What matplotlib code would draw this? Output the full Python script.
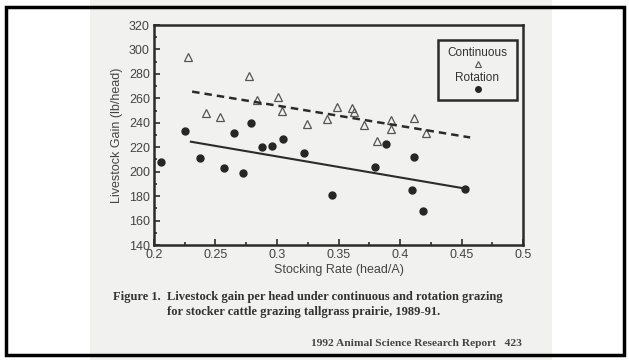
import numpy as np
import matplotlib
matplotlib.use("Agg")
import matplotlib.pyplot as plt
from matplotlib.patches import Rectangle
from matplotlib.ticker import MultipleLocator

########## Data
cont_x = [0.228, 0.242, 0.254, 0.277, 0.284, 0.301, 0.304, 0.324, 0.341, 0.349,
          0.361, 0.363, 0.371, 0.381, 0.393, 0.393, 0.411, 0.421]
cont_y = [294, 248, 245, 278, 259, 261, 250, 239, 243, 253,
          252, 249, 238, 225, 242, 235, 244, 232]
rot_x = [0.206, 0.225, 0.237, 0.257, 0.265, 0.272, 0.279, 0.288, 0.296, 0.305,
         0.322, 0.345, 0.380, 0.389, 0.411, 0.410, 0.419, 0.453]
rot_y = [208, 233, 211, 203, 232, 199, 240, 220, 221, 227,
         215, 181, 204, 223, 212, 185, 168, 186]
# fitted lines (end points)
cont_fit_x = [0.231, 0.457]
cont_fit_y = [265.5, 228]
rot_fit_x = [0.230, 0.454]
rot_fit_y = [224.5, 186]

x_ticks = [0.2, 0.25, 0.3, 0.35, 0.4, 0.45, 0.5]
x_ticklabels = ['0.2', '0.25', '0.3', '0.35', '0.4', '0.45', '0.5']
y_ticks = list(range(140, 321, 20))

ink = '#2b2b2b'
page = '#f1f1f0'

fig = plt.figure(figsize=(6.29, 3.6), dpi=100)
fig.patch.set_facecolor('white')
# scanned page + black frame
fig.patches.append(Rectangle((90/629, 0), 462/629, 1, transform=fig.transFigure,
                             facecolor=page, edgecolor='none', zorder=-5))
fig.patches.append(Rectangle((6.5/629, 5/360), 617/629, 348/360, transform=fig.transFigure,
                             facecolor='none', edgecolor='black', lw=2.5, zorder=5))

ax = fig.add_axes([154/629, 1 - 245/360, 369/629, 220/360])
ax.set_facecolor(page)

ax.plot(cont_x, cont_y, linestyle='none', marker='^', markersize=6,
        markerfacecolor='none', markeredgecolor='#555555', markeredgewidth=0.9)
ax.plot(rot_x, rot_y, linestyle='none', marker='o', markersize=5,
        color='#262626')
ax.plot(cont_fit_x, cont_fit_y, linestyle=(0, (3, 2)), color=ink, lw=1.8)
ax.plot(rot_fit_x, rot_fit_y, linestyle='-', color=ink, lw=1.5)

ax.set_xlim(0.2, 0.5)
ax.set_ylim(140, 320)
ax.set_xticks(x_ticks)
ax.set_xticklabels(x_ticklabels)
ax.set_yticks(y_ticks)
ax.xaxis.set_minor_locator(MultipleLocator(0.025))
ax.yaxis.set_minor_locator(MultipleLocator(10))
ax.tick_params(which='both', direction='in', colors=ink, labelcolor='#444444',
               labelsize=9, width=1.2)
ax.tick_params(which='major', length=4, pad=3)
ax.tick_params(which='minor', length=2.5)
for t in ax.get_xticklabels() + ax.get_yticklabels():
    t.set_family('Liberation Sans')
for s in ax.spines.values():
    s.set_linewidth(1.8)
    s.set_color(ink)

ax.set_xlabel('Stocking Rate (head/A)', family='Liberation Sans', fontsize=9,
              color='#444444', labelpad=2)
ax.set_ylabel('Livestock Gain (lb/head)', family='Liberation Sans', fontsize=9,
              color='#444444', labelpad=4)

# legend box drawn like the original
lx0, lx1 = (438 - 154) / 369, (517 - 154) / 369
ly0, ly1 = (245 - 100) / 220, (245 - 40) / 220
ax.add_patch(Rectangle((lx0, ly0), lx1 - lx0, ly1 - ly0, transform=ax.transAxes,
                       facecolor='none', edgecolor=ink, lw=1.8, zorder=4))
lxc = (lx0 + lx1) / 2
ax.text(lxc, (245 - 53) / 220, 'Continuous', transform=ax.transAxes, ha='center',
        va='center', family='Liberation Sans', fontsize=8.5, color='#333333')
ax.plot([lxc], [(245 - 64) / 220], transform=ax.transAxes, marker='^', markersize=5,
        markerfacecolor='none', markeredgecolor='#555555', markeredgewidth=0.8)
ax.text(lxc, (245 - 78) / 220, 'Rotation', transform=ax.transAxes, ha='center',
        va='center', family='Liberation Sans', fontsize=8.5, color='#333333')
ax.plot([lxc], [(245 - 89) / 220], transform=ax.transAxes, marker='o', markersize=4,
        color='#262626')

# caption
cap = dict(family='Liberation Serif', fontweight='bold', fontsize=9, color='#333333',
           va='center', ha='left')
fig.text(113/629, 1 - 297/360, 'Figure 1.', **cap)
fig.text(167/629, 1 - 297/360,
         'Livestock gain per head under continuous and rotation grazing', **cap)
fig.text(167/629, 1 - 312/360, 'for stocker cattle grazing tallgrass prairie, 1989-91.', **cap)
fig.text(522/629, 1 - 344/360, '1992 Animal Science Research Report   423',
         family='Liberation Serif', fontweight='bold', fontsize=8.2, color='#444444',
         va='center', ha='right')

fig.savefig('out.png', dpi=100, facecolor=fig.get_facecolor())
